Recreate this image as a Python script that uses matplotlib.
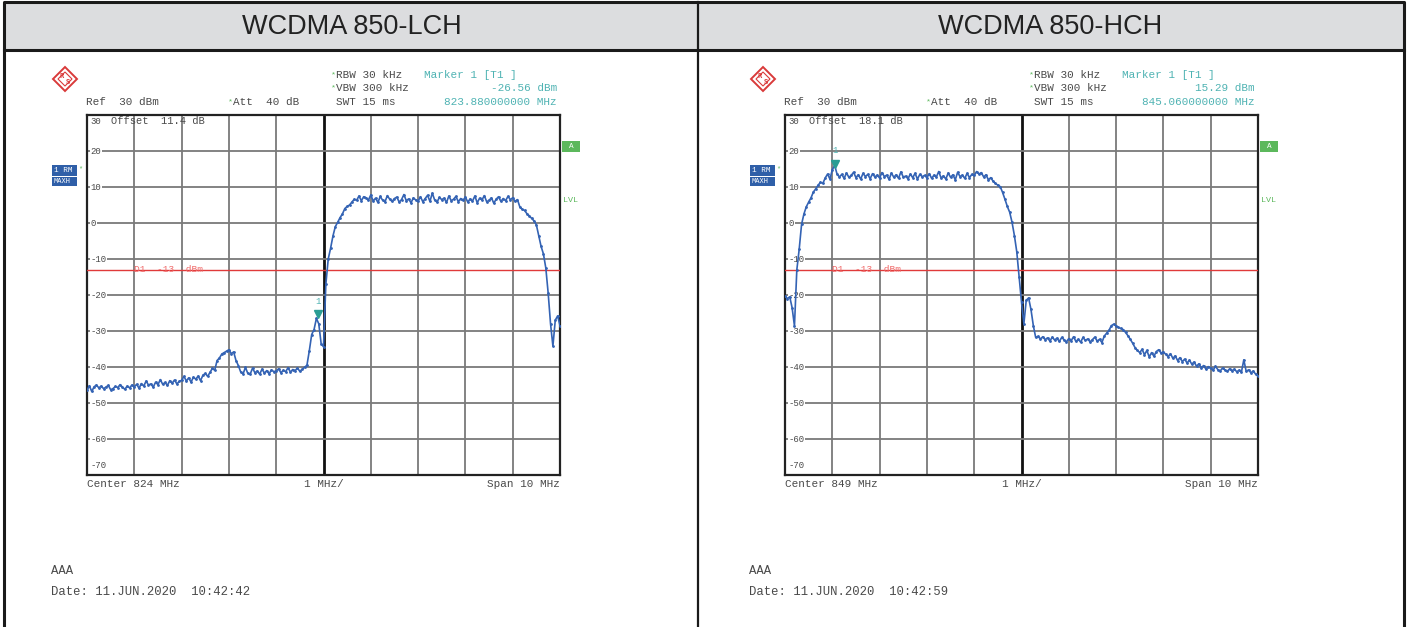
import numpy as np
import matplotlib.pyplot as plt
from matplotlib.patches import Rectangle, Polygon

# spectrum traces, 0.05 MHz per point, 201 points over the 10 MHz span
lch_trace = [
    -46.5, -45.2, -46.8, -45.5, -45.0, -45.8, -45.3, -46.0, -45.6, -45.1, -46.3, -46.0, -45.4, -45.7, -44.9, -45.6, -46.2, -45.3, -45.8, -45.0,
    -45.5, -44.8, -45.9, -44.6, -45.3, -43.9, -45.0, -44.7, -45.6, -44.2, -44.9, -43.5, -44.8, -44.3, -45.1, -43.8, -44.5, -43.6, -44.7, -44.0,
    -43.7, -42.6, -43.9, -43.0, -44.2, -42.8, -43.4, -42.5, -43.8, -42.3, -41.8, -42.6, -41.5, -40.4, -40.9, -38.2, -37.5, -36.4, -36.0, -35.6,
    -35.2, -36.3, -35.8, -38.2, -39.6, -41.4, -41.9, -40.1, -41.8, -42.0, -40.3, -41.6, -41.1, -42.0, -40.6, -41.7, -41.0, -41.9, -40.8, -41.3,
    -41.1, -40.5, -41.6, -40.9, -41.3, -40.2, -41.4, -40.7, -41.0, -40.3, -41.2, -40.6, -40.1, -39.5, -35.5, -31.0, -29.6, -26.5, -28.0, -33.5,
    -34.4, -17.0, -10.0, -7.0, -3.6, -1.0, 0.2, 1.5, 2.5, 4.0, 4.6, 5.0, 5.8, 6.6, 6.3, 7.5, 6.2, 7.3, 7.0, 6.4,
    7.8, 6.1, 6.9, 5.7, 7.4, 6.3, 5.9, 7.6, 6.6, 6.0, 6.8, 7.2, 5.8, 6.5, 7.9, 6.2, 6.7, 5.6, 7.0, 6.4,
    6.1, 7.3, 5.9, 6.8, 7.7, 6.0, 8.3, 6.4, 5.8, 7.1, 6.5, 6.9, 5.7, 7.5, 6.2, 6.6, 7.4, 5.9, 6.8, 6.3,
    7.2, 5.8, 6.7, 6.1, 7.5, 5.6, 6.9, 6.4, 7.6, 5.9, 6.3, 7.0, 5.5, 6.6, 7.3, 6.0, 6.8, 6.2, 7.4, 6.5,
    7.0, 6.0, 6.5, 4.5, 3.8, 3.5, 2.6, 2.0, 1.3, 0.6, -0.5, -3.5, -6.5, -8.6, -12.5, -19.5, -28.0, -34.2, -27.0, -25.8,
    -28.5,
]
hch_trace = [
    -20.3, -21.0, -20.5, -23.5, -28.6, -13.0, -7.3, -0.4, 2.5, 4.5, 5.8, 7.0, 8.6, 9.5, 10.5, 11.3, 11.0, 12.5, 13.6, 12.2,
    14.8, 16.0, 13.6, 12.8, 13.5, 12.4, 13.9, 12.7, 13.2, 14.1, 12.6, 13.4, 12.2, 13.8, 12.9, 13.5, 12.3, 13.7, 12.8, 13.3,
    12.5, 14.0, 12.9, 13.3, 12.1, 13.9, 12.7, 13.4, 12.4, 14.2, 12.8, 13.0, 12.3, 13.6, 12.6, 13.8, 12.2, 13.5, 12.9, 13.2,
    12.6, 13.7, 12.4, 13.3, 12.8, 14.3, 12.5, 13.1, 12.2, 13.9, 12.7, 13.4, 12.0, 14.1, 12.9, 13.3, 12.4, 13.8, 12.6, 13.5,
    13.2, 14.3, 13.6, 14.0, 12.8, 13.4, 12.0, 12.6, 11.6, 11.0, 10.5, 10.1, 8.5, 6.6, 4.6, 3.0, 0.2, -3.5, -8.0, -15.0,
    -22.0, -28.0, -21.5, -20.8, -24.0, -28.5, -31.8, -31.5, -32.2, -31.6, -32.4, -31.9, -32.8, -31.7, -32.5, -32.0, -32.9, -31.8, -32.4, -33.0,
    -32.1, -32.7, -31.6, -32.9, -32.3, -33.1, -31.8, -32.6, -32.2, -33.0, -32.4, -31.7, -32.8, -32.3, -33.2, -31.4, -30.6, -29.8, -28.5, -28.1,
    -28.6, -29.0, -29.3, -29.6, -30.4, -31.3, -32.3, -33.4, -34.6, -35.4, -36.0, -35.1, -36.6, -35.4, -37.2, -36.0, -37.0, -35.7, -35.2, -36.1,
    -35.8, -36.5, -37.1, -36.3, -37.6, -36.9, -38.2, -37.4, -38.5, -37.8, -38.9, -38.1, -39.2, -38.6, -39.8, -39.1, -40.2, -39.6, -40.6, -39.9,
    -40.4, -40.9, -39.8, -40.7, -41.1, -40.3, -40.8, -41.2, -40.5, -41.0, -40.6, -41.3, -40.9, -41.4, -38.0, -41.2, -40.8, -41.6, -41.1, -42.0,
    -42.5,
]

titles = ['WCDMA 850-LCH', 'WCDMA 850-HCH']
centers = [824, 849]
offsets = ['11.4', '18.1']
marker_freq = [823.88, 845.06]
marker_level = [-26.56, 15.29]
dates = ['11.JUN.2020  10:42:42', '11.JUN.2020  10:42:59']
traces = [lch_trace, hch_trace]
yticks = [20, 10, 0, -10, -20, -30, -40, -50, -60]
limit_db = -13

W, H = 1408, 627
fig = plt.figure(figsize=(W / 100, H / 100), dpi=100)
plt.rcParams['font.family'] = 'Liberation Mono'

bg = fig.add_axes([0, 0, 1, 1])
bg.set_xlim(0, W)
bg.set_ylim(H, 0)
bg.axis('off')

# table frame
bg.add_patch(Rectangle((4, 2), 1400, 48, facecolor='#dcdddf', edgecolor='none'))
bg.plot([4, 4, 1404, 1404], [627, 2, 2, 627], color='#1a1a1a', lw=2.2)
bg.plot([4, 1404], [50, 50], color='#1a1a1a', lw=2.2)
bg.plot([698, 698], [2, 627], color='#1a1a1a', lw=1.6)

gray = '#4a4a4a'
cyan = '#4fb3b3'
green = '#5cb85c'
blue = '#2f5fa8'

for i in range(2):
    dx = i * 698
    bg.text(352 + dx, 27, titles[i], ha='center', va='center', fontsize=19.5,
            family='Liberation Sans', color='#222222')

    # R&S logo
    cx, cy = 65 + dx, 79
    bg.add_patch(Polygon([(cx, cy - 12), (cx + 12, cy), (cx, cy + 12), (cx - 12, cy)],
                         closed=True, fill=False, edgecolor='#d93a3a', lw=1.4))
    bg.add_patch(Polygon([(cx, cy - 7), (cx + 7, cy), (cx, cy + 7), (cx - 7, cy)],
                         closed=True, fill=False, edgecolor='#d93a3a', lw=0.8))
    bg.text(cx - 3, cy - 3, 'R', fontsize=5, color='#d93a3a', ha='center', va='center', weight='bold')
    bg.text(cx + 3, cy + 4, 'S', fontsize=5, color='#d93a3a', ha='center', va='center', weight='bold')

    # header parameters
    fs = 7.9
    bg.text(331 + dx, 75, '*', fontsize=6, color=green, va='center')
    bg.text(336 + dx, 75, 'RBW 30 kHz', fontsize=fs, color=gray, va='center')
    bg.text(331 + dx, 88, '*', fontsize=6, color=green, va='center')
    bg.text(336 + dx, 88, 'VBW 300 kHz', fontsize=fs, color=gray, va='center')
    bg.text(424 + dx, 75, 'Marker 1 [T1 ]', fontsize=fs, color=cyan, va='center')
    bg.text(557 + dx, 88, '%.2f dBm' % marker_level[i], fontsize=fs, color=cyan, va='center', ha='right')
    bg.text(557 + dx, 102, '%.9f MHz' % marker_freq[i], fontsize=fs, color=cyan, va='center', ha='right')
    bg.text(86 + dx, 102, 'Ref  30 dBm', fontsize=fs, color=gray, va='center')
    bg.text(228 + dx, 102, '*', fontsize=6, color=green, va='center')
    bg.text(233 + dx, 102, 'Att  40 dB', fontsize=fs, color=gray, va='center')
    bg.text(336 + dx, 102, 'SWT 15 ms', fontsize=fs, color=gray, va='center')

    # side labels
    bg.add_patch(Rectangle((52 + dx, 165), 25, 11, facecolor=blue, edgecolor='none'))
    bg.add_patch(Rectangle((52 + dx, 177), 25, 9, facecolor=blue, edgecolor='none'))
    bg.text(54 + dx, 170.5, '1 RM', fontsize=5.5, color='white', va='center')
    bg.text(53 + dx, 181.5, 'MAXH', fontsize=5, color='white', va='center')
    bg.text(78 + dx, 169, '*', fontsize=5, color=green, va='center')
    bg.add_patch(Rectangle((562 + dx, 141), 18, 11, facecolor=green, edgecolor='none'))
    bg.text(571 + dx, 146.5, 'A', fontsize=5.5, color='white', va='center', ha='center')
    bg.text(563 + dx, 200, 'LVL', fontsize=6, color=green, va='center')

    # footer
    bg.text(87 + dx, 484, 'Center %d MHz' % centers[i], fontsize=fs, color=gray, va='center')
    bg.text(304 + dx, 484, '1 MHz/', fontsize=fs, color=gray, va='center')
    bg.text(560 + dx, 484, 'Span 10 MHz', fontsize=fs, color=gray, va='center', ha='right')
    bg.text(51 + dx, 571, 'AAA', fontsize=8.8, color=gray, va='center')
    bg.text(51 + dx, 592, 'Date: ' + dates[i], fontsize=8.8, color=gray, va='center')

    # spectrum plot
    x0 = 87 + dx
    ax = fig.add_axes([x0 / W, (H - 475) / H, 473 / W, 360 / H])
    f0 = centers[i] - 5
    freqs = np.linspace(f0, f0 + 10, len(traces[i]))
    ax.set_xlim(f0, f0 + 10)
    ax.set_ylim(-70, 30)
    for k in range(1, 10):
        ax.axvline(f0 + k, color='#111111' if k == 5 else '#7a7a7a',
                   lw=2.0 if k == 5 else 1.3, zorder=1)
    for yv in yticks:
        ax.axhline(yv, color='#7a7a7a', lw=1.3, zorder=1)
        ax.text(f0 + 0.08, yv, str(yv), fontsize=6.5, color=gray, va='center', ha='left',
                bbox=dict(facecolor='white', edgecolor='none', pad=0.3), zorder=2)
    ax.text(f0 + 0.08, 28.3, '30', fontsize=6.5, color=gray, va='center')
    ax.text(f0 + 0.08, -67.5, '-70', fontsize=6.5, color=gray, va='center')
    ax.text(f0 + 0.5, 28.3, 'Offset  %s dB' % offsets[i], fontsize=7.5, color=gray, va='center')

    ax.axhline(limit_db, color='#e03a3a', lw=1.0, zorder=3)
    ax.text(f0 + 1.0, limit_db, 'D1  -13  dBm', fontsize=6.8, color='#f06a6a', va='center', zorder=3)

    ax.plot(freqs, traces[i], color='#3463b4', lw=1.2, marker='.', ms=2, zorder=4)
    ax.plot([marker_freq[i]], [marker_level[i] + 1.2], marker='v', color='#2a9d94', ms=6, zorder=5)
    ax.text(marker_freq[i], marker_level[i] + 4.8, '1', fontsize=6.5, color=cyan, ha='center', va='center')

    ax.set_xticks([])
    ax.set_yticks([])
    for s in ax.spines.values():
        s.set_color('#222222')
        s.set_linewidth(1.6)

fig.savefig('out.png', dpi=100)
